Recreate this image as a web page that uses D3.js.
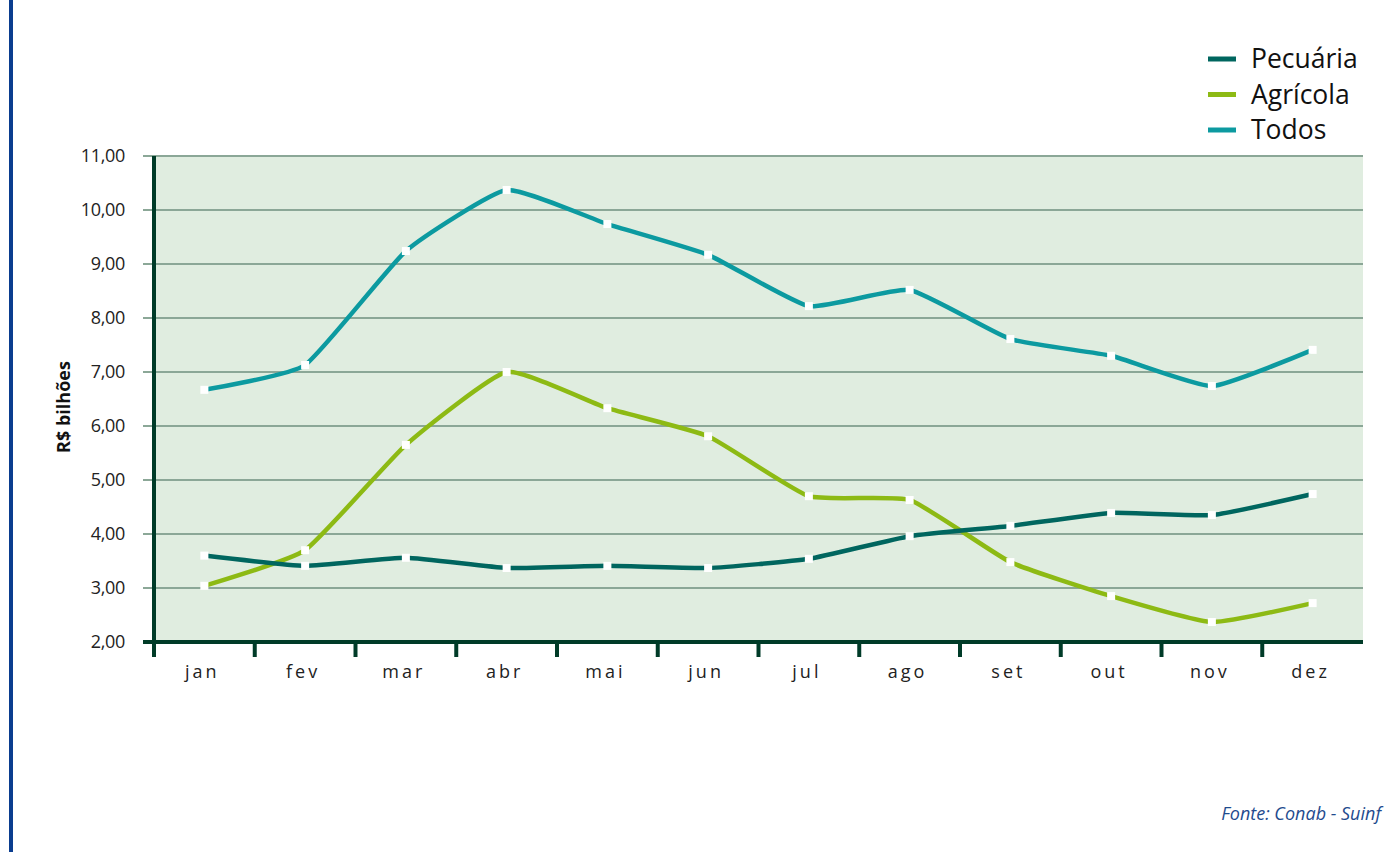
<!DOCTYPE html>
<html><head><meta charset="utf-8">
<script src="https://cdn.jsdelivr.net/npm/d3@7/dist/d3.min.js"></script>
<style>body{margin:0;background:#fff;}svg{display:block;font-family:"Open Sans","Noto Sans",sans-serif;}</style>
</head><body>
<svg id="c" width="1395" height="852"></svg>
<script>
const months = ["jan","fev","mar","abr","mai","jun","jul","ago","set","out","nov","dez"];
const pecuaria = [3.60,3.41,3.56,3.37,3.41,3.37,3.54,3.96,4.15,4.39,4.35,4.74];
const agricola = [3.04,3.70,5.65,7.00,6.33,5.81,4.70,4.63,3.48,2.85,2.37,2.72];
const todos    = [6.67,7.13,9.24,10.37,9.74,9.17,8.22,8.52,7.61,7.30,6.74,7.41];
const seriesNames = ["Pecuária","Agrícola","Todos"];
const seriesColors = ["#00665f","#8dba14","#0c9aa0"];
const yTicks = [2,3,4,5,6,7,8,9,10,11];
const yLabel = "R$ bilhões";
const source = "Fonte: Conab - Suinf";

const svg = d3.select("#c");
const L = 154, R = 1363, T = 156, B = 642;

svg.append("rect").attr("x",9).attr("y",0).attr("width",4).attr("height",852).attr("fill","#0a3d8f");

const x = d3.scaleBand().domain(months).range([L, R]);
const y = d3.scaleLinear().domain([2, 11]).range([B, T]);

svg.append("rect").attr("x",L).attr("y",T).attr("width",R-L).attr("height",B-T).attr("fill","#e0ede0");

svg.append("g").selectAll("line").data(yTicks.filter(d=>d>2)).join("line")
  .attr("x1",143).attr("x2",R).attr("y1",d=>y(d)).attr("y2",d=>y(d))
  .attr("stroke","#8ba797").attr("stroke-width",2);

svg.append("g").selectAll("text").data(yTicks).join("text")
  .attr("x",125).attr("y",d=>y(d)).attr("dy","0.35em").attr("text-anchor","end")
  .attr("font-size",18).attr("letter-spacing","-0.3px").attr("fill","#222")
  .text(d=>d3.format(".2f")(d).replace(".",","));

svg.append("line").attr("x1",L).attr("x2",L).attr("y1",T).attr("y2",657)
  .attr("stroke","#003b28").attr("stroke-width",4);
svg.append("line").attr("x1",143).attr("x2",R).attr("y1",B).attr("y2",B)
  .attr("stroke","#003b28").attr("stroke-width",4);
svg.append("g").selectAll("line").data(months.slice(1)).join("line")
  .attr("x1",d=>x(d)).attr("x2",d=>x(d)).attr("y1",B).attr("y2",657)
  .attr("stroke","#003b28").attr("stroke-width",4);
svg.append("g").selectAll("text").data(months).join("text")
  .attr("x",d=>x(d)+x.bandwidth()/2 - 2).attr("y",678).attr("text-anchor","middle")
  .attr("font-size",18).attr("letter-spacing","3px").attr("fill","#222")
  .text(d=>d);

svg.append("text").attr("transform",`translate(70,${(T+B)/2+8}) rotate(-90)`)
  .attr("text-anchor","middle").attr("font-size",18).attr("font-weight","bold").attr("fill","#111")
  .text(yLabel);

const data = [pecuaria, agricola, todos];
const line = d3.line().x((d,i)=>x(months[i])+x.bandwidth()/2).y(d=>y(d)).curve(d3.curveCardinal.tension(0.55));
const order = [2,1,0];
order.forEach(k=>{
  svg.append("path").attr("d",line(data[k])).attr("fill","none")
    .attr("stroke",seriesColors[k]).attr("stroke-width",4.5);
});
order.forEach(k=>{
  svg.append("g").selectAll("rect").data(data[k]).join("rect")
    .attr("x",(d,i)=>x(months[i])+x.bandwidth()/2-4).attr("y",d=>y(d)-4)
    .attr("width",8).attr("height",8).attr("fill","#fff");
});

const lg = svg.append("g");
seriesNames.forEach((n,i)=>{
  const yy = 59 + i*35.5;
  lg.append("line").attr("x1",1208).attr("x2",1236).attr("y1",yy).attr("y2",yy)
    .attr("stroke",seriesColors[i]).attr("stroke-width",5);
  lg.append("text").attr("x",1251).attr("y",yy).attr("dy","0.35em")
    .attr("font-size",26.5).attr("fill","#111").text(n);
});

svg.append("text").attr("x",1381).attr("y",820).attr("text-anchor","end")
  .attr("font-size",18).attr("font-style","italic").attr("fill","#1f4b8e").text(source);
</script>
</body></html>
